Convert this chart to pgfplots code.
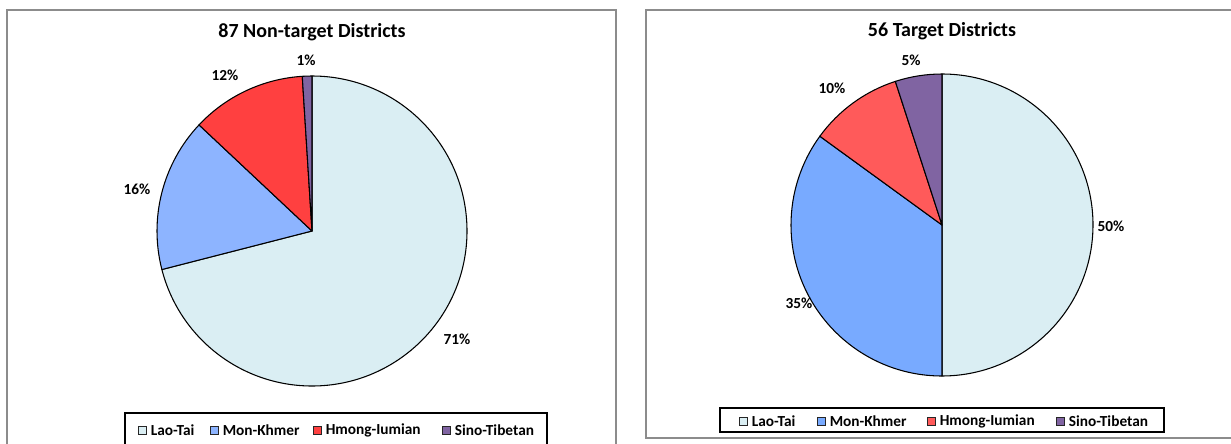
\documentclass[border=0pt]{standalone}
\usepackage{fontspec}
\setmainfont{Carlito}
\usepackage{pgfplots}
\usepackage{pgfplotstable}
\pgfplotsset{compat=1.18}

\definecolor{pieL0}{HTML}{DAEEF3}
\definecolor{pieL1}{HTML}{8DB4FF}
\definecolor{pieL2}{HTML}{FF4040}
\definecolor{pieL3}{HTML}{8064A2}
\definecolor{pieR0}{HTML}{DAEEF3}
\definecolor{pieR1}{HTML}{78AAFF}
\definecolor{pieR2}{HTML}{FF5A5A}
\definecolor{pieR3}{HTML}{8064A2}
\definecolor{boxgray}{HTML}{8C8C8C}

\pgfplotstableread{
group value
Lao-Tai 71
Mon-Khmer 16
Hmong-Iumian 12
Sino-Tibetan 1
}\nontarget

\pgfplotstableread{
group value
Lao-Tai 50
Mon-Khmer 35
Hmong-Iumian 10
Sino-Tibetan 5
}\target

% #1 table, #2 colour prefix, #3 radius
\newcommand\drawpie[3]{%
  \gdef\cumang{90}%
  \pgfplotstablegetrowsof{#1}%
  \pgfmathtruncatemacro\nrows{\pgfplotsretval-1}%
  \pgfplotsforeachungrouped \i in {0,...,\nrows}{%
    \pgfplotstablegetelem{\i}{value}\of{#1}%
    \pgfmathsetmacro\angA{\cumang}%
    \pgfmathsetmacro\angB{\cumang-3.6*\pgfplotsretval}%
    \xdef\cumang{\angB}%
    \edef\doslice{\noexpand\filldraw[fill=#2\i, draw=black, line width=0.8pt, line join=round]
      (axis cs:0,0) -- (axis cs:{cos(\angA)},{sin(\angA)})
      arc[start angle=\angA, end angle=\angB, radius=#3] -- cycle;}%
    \doslice
  }%
}

\begin{document}
\begin{tikzpicture}[x=0.75pt,y=-0.75pt]
\useasboundingbox (0,0) rectangle (1231,443);

% outer frames
\draw[boxgray, line width=1.1pt] (7,10) rectangle (616,470);
\draw[boxgray, line width=1.1pt] (646,10) rectangle (1260,438);

% left pie
\begin{axis}[hide axis, clip=false, enlargelimits=false,
  x=116.25pt, y=116.25pt, xmin=-1, xmax=1, ymin=-1, ymax=1,
  at={(234pt,-173.25pt)}, anchor=center]
  \drawpie{\nontarget}{pieL}{116.25pt}
\end{axis}

% right pie
\begin{axis}[hide axis, clip=false, enlargelimits=false,
  x=113.25pt, y=113.25pt, xmin=-1, xmax=1, ymin=-1, ymax=1,
  at={(706.5pt,-168.75pt)}, anchor=center]
  \drawpie{\target}{pieR}{113.25pt}
\end{axis}

% titles
\node[font=\fontsize{15}{18}\selectfont\bfseries] at (312,32) {87 Non-target Districts};
\node[font=\fontsize{15}{18}\selectfont\bfseries] at (942,31) {56 Target Districts};

% percentage labels
\begin{scope}[every node/.style={font=\fontsize{11.5}{13}\selectfont\bfseries}]
\node at (457,339) {71\%};
\node at (137,189) {16\%};
\node at (225,75) {12\%};
\node at (306,60) {1\%};
\node at (1111,226) {50\%};
\node at (799,303) {35\%};
\node at (832,88) {10\%};
\node at (911,60) {5\%};
\end{scope}

% legends
\begin{scope}[every node/.style={font=\fontsize{11.5}{13}\selectfont\bfseries, anchor=west, inner sep=0pt}]
\draw[black, line width=0.8pt, fill=white] (125,413) rectangle (547,470);
\foreach \xs/\c/\t in {138/pieL0/Lao-Tai, 210/pieL1/Mon-Khmer, 313/pieL2/Hmong-Iumian, 442/pieL3/Sino-Tibetan}{
  \draw[fill=\c, draw=black!85, line width=0.7pt] (\xs,426.5) rectangle ++(8,8);
  \node at (\xs+12.5,430.5) {\t};
}
\draw[black, line width=0.8pt, fill=white] (720,408) rectangle (1164,432);
\foreach \xs/\c/\t in {739/pieR0/Lao-Tai, 817/pieR1/Mon-Khmer, 927/pieR2/Hmong-Iumian, 1056/pieR3/Sino-Tibetan}{
  \draw[fill=\c, draw=black!85, line width=0.7pt] (\xs,417) rectangle ++(8,8);
  \node at (\xs+12.5,421) {\t};
}
\end{scope}
\end{tikzpicture}
\end{document}
